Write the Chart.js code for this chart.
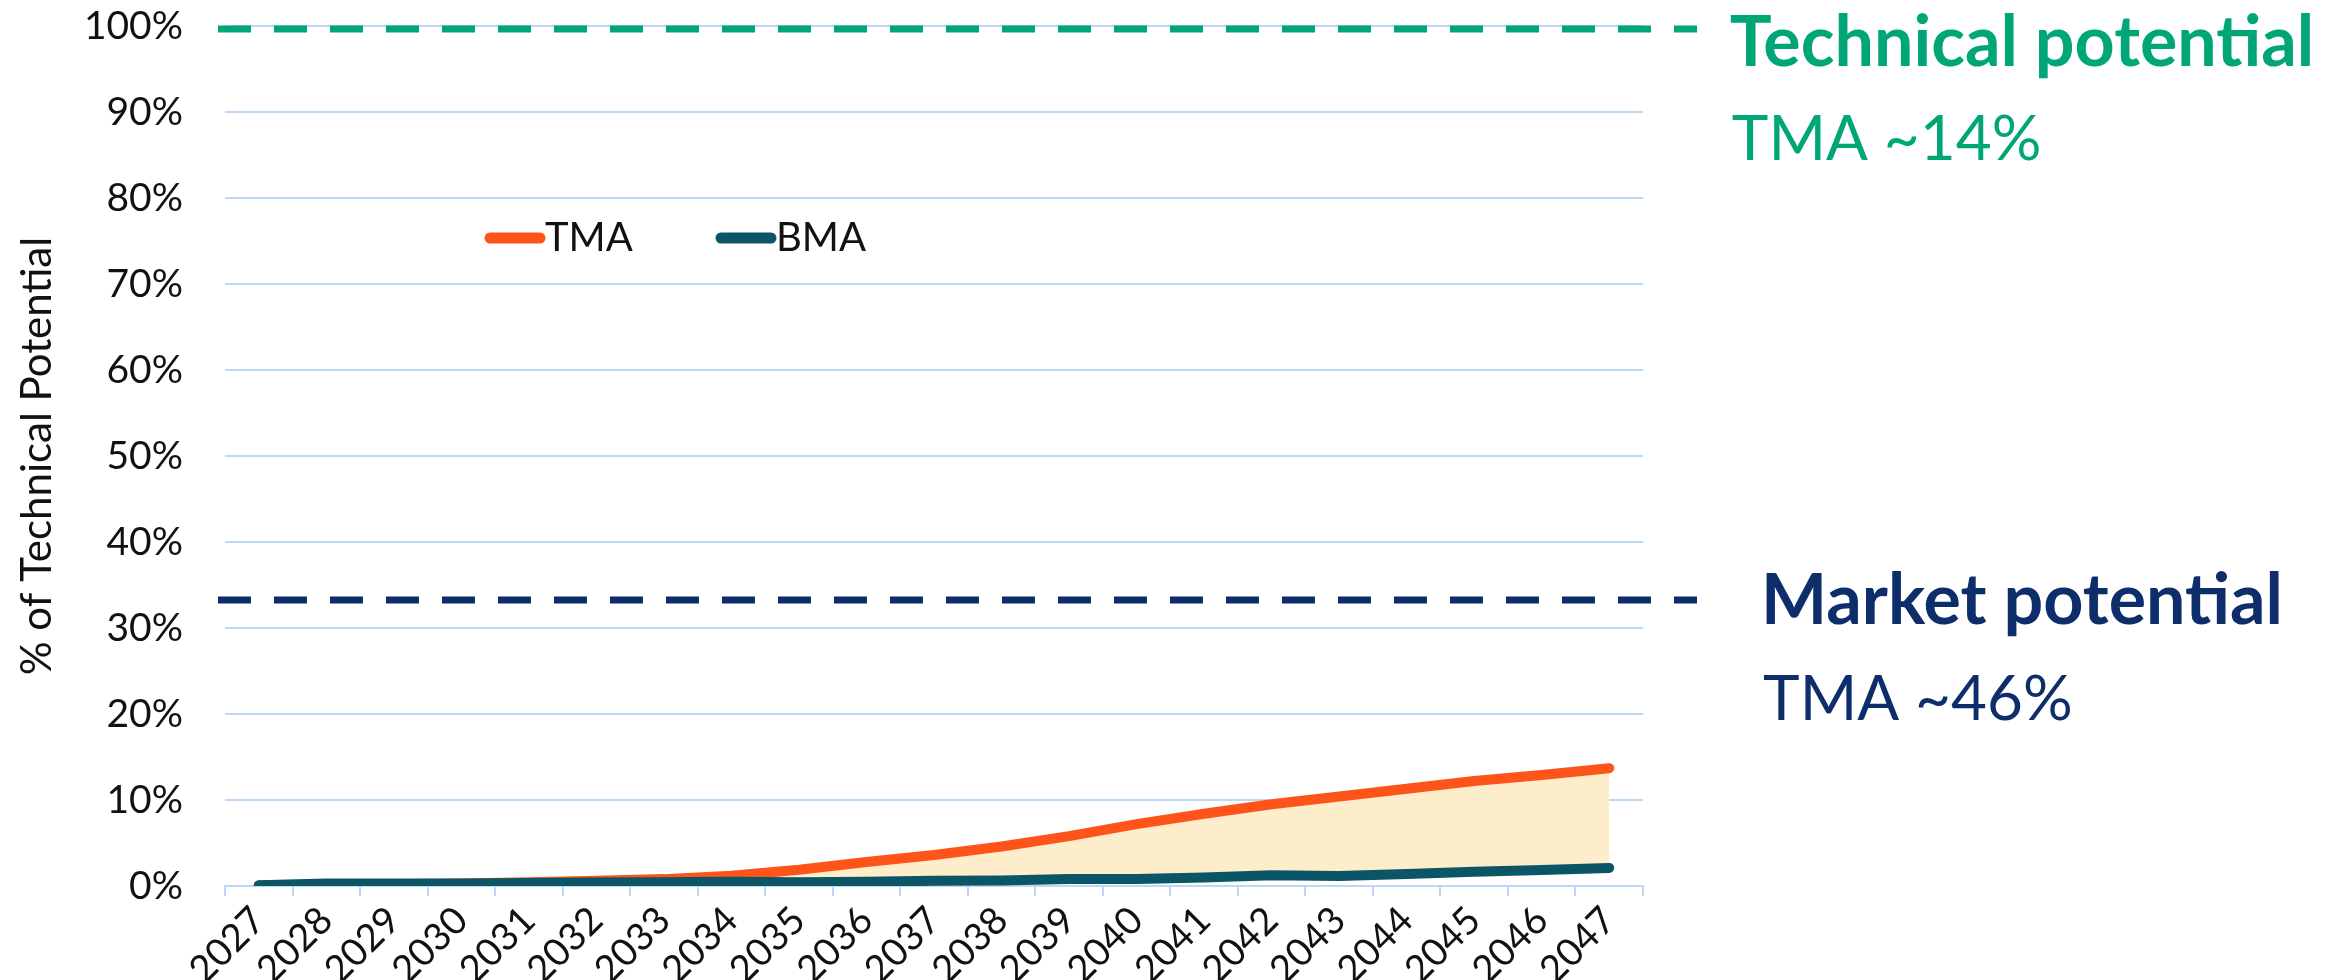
<!doctype html>
<html lang="en">
<head>
<meta charset="utf-8">
<title>Technical and market potential</title>
<script src="https://cdn.jsdelivr.net/npm/chart.js@4.4.1/dist/chart.umd.min.js"></script>
<style>
  body { margin: 0; background: #fff; }
</style>
</head>
<body>
<canvas id="chart" width="2343" height="980"></canvas>
<script>
// data (% of technical potential)
var years = ['2027', '2028', '2029', '2030', '2031', '2032', '2033', '2034', '2035', '2036', '2037',
             '2038', '2039', '2040', '2041', '2042', '2043', '2044', '2045', '2046', '2047'];
var tmaValues = [0.05, 0.15, 0.2, 0.3, 0.45, 0.6, 0.8, 1.2, 1.9, 2.8, 3.6,
                 4.6, 5.8, 7.2, 8.4, 9.5, 10.4, 11.3, 12.2, 12.9, 13.7];
var bmaValues = [0.1, 0.3, 0.3, 0.3, 0.35, 0.4, 0.45, 0.5, 0.45, 0.5, 0.6,
                 0.65, 0.8, 0.8, 1.0, 1.25, 1.15, 1.4, 1.65, 1.85, 2.1];
var seriesNames = ['TMA', 'BMA'];
var yTickStep = 10;
var yMax = 100;

// reference levels drawn as dashed lines with their notes
var refLevels = [99.6, 33.3];
var refTitles = ['Technical potential', 'Market potential'];
var refNotes = ['TMA ~14%', 'TMA ~46%'];

var ORANGE = '#FF5419';
var TEAL = '#0A5667';
var GRID = '#BDD7F7';
var refColors = ['#00A676', '#0E2D6B'];

var overlay = {
  id: 'overlay',
  afterDraw: function(chart) {
    var ctx = chart.ctx;
    var y = chart.scales.y;
    ctx.save();

    // dashed reference lines + text
    var titleOffset = [37, 24];
    var noteOffset = [131, 120];
    for (var i = 0; i < refLevels.length; i++) {
      var py = Math.round(y.getPixelForValue(refLevels[i]));
      ctx.strokeStyle = refColors[i];
      ctx.lineWidth = 7;
      ctx.setLineDash([33, 23]);
      ctx.beginPath();
      ctx.moveTo(218, py);
      ctx.lineTo(1697, py);
      ctx.stroke();
      ctx.setLineDash([]);

      ctx.fillStyle = refColors[i];
      ctx.font = 'bold 70px Lato';
      ctx.textAlign = 'center';
      ctx.textBaseline = 'alphabetic';
      ctx.fillText(refTitles[i], 2022, py + titleOffset[i]);
      var w = ctx.measureText(refTitles[i]).width;
      ctx.font = '62px Lato';
      ctx.textAlign = 'left';
      ctx.fillText(refNotes[i], 2022 - w / 2 + 2, py + noteOffset[i]);
    }

    // legend inside the plot
    var legX = [485, 716];
    chart.data.datasets.forEach(function(ds, k) {
      ctx.strokeStyle = ds.borderColor;
      ctx.lineWidth = 11;
      ctx.lineCap = 'round';
      ctx.beginPath();
      ctx.moveTo(legX[k] + 5, 238);
      ctx.lineTo(legX[k] + 55, 238);
      ctx.stroke();
      ctx.fillStyle = '#111';
      ctx.font = '40px Lato';
      ctx.textAlign = 'left';
      ctx.fillText(ds.label, legX[k] + 60, 251);
    });
    ctx.restore();
  }
};

new Chart(document.getElementById('chart'), {
  type: 'line',
  data: {
    labels: years,
    datasets: [
      {
        label: seriesNames[0],
        data: tmaValues,
        borderColor: ORANGE,
        backgroundColor: '#FDEDCB',
        borderWidth: 10,
        borderCapStyle: 'round',
        borderJoinStyle: 'round',
        pointRadius: 0,
        tension: 0,
        fill: '+1',
        order: 1,
        clip: 0
      },
      {
        label: seriesNames[1],
        data: bmaValues,
        borderColor: TEAL,
        backgroundColor: TEAL,
        borderWidth: 10,
        borderCapStyle: 'round',
        borderJoinStyle: 'round',
        pointRadius: 0,
        tension: 0,
        fill: false,
        order: 0,
        clip: 0
      }
    ]
  },
  options: {
    responsive: false,
    animation: false,
    layout: { padding: { left: 0, right: 700, top: 26, bottom: 0 } },
    plugins: {
      legend: { display: false },
      tooltip: { enabled: false }
    },
    scales: {
      x: {
        offset: true,
        grid: { drawOnChartArea: false, color: GRID, lineWidth: 2, tickLength: 10, offset: true },
        border: { color: GRID, width: 2 },
        ticks: {
          color: '#111',
          font: { family: 'Lato', size: 38 },
          maxRotation: 45,
          minRotation: 45,
          autoSkip: false,
          padding: 2
        },
        afterFit: function(s) { s.height = 94; }
      },
      y: {
        min: 0,
        max: yMax,
        grid: { color: GRID, lineWidth: 2, drawTicks: false },
        border: { display: false },
        ticks: {
          stepSize: yTickStep,
          color: '#111',
          font: { family: 'Lato', size: 39 },
          padding: 42,
          callback: function(v) { return v + '%'; }
        },
        title: {
          display: true,
          text: '% of Technical Potential',
          color: '#111',
          font: { family: 'Lato', size: 42 },
          padding: { top: 12, bottom: 4 }
        },
        afterFit: function(s) {
          s.width = 225;
          s.paddingTop = 0;
          s.paddingBottom = 0;
        }
      }
    }
  },
  plugins: [overlay]
});
</script>
</body>
</html>
